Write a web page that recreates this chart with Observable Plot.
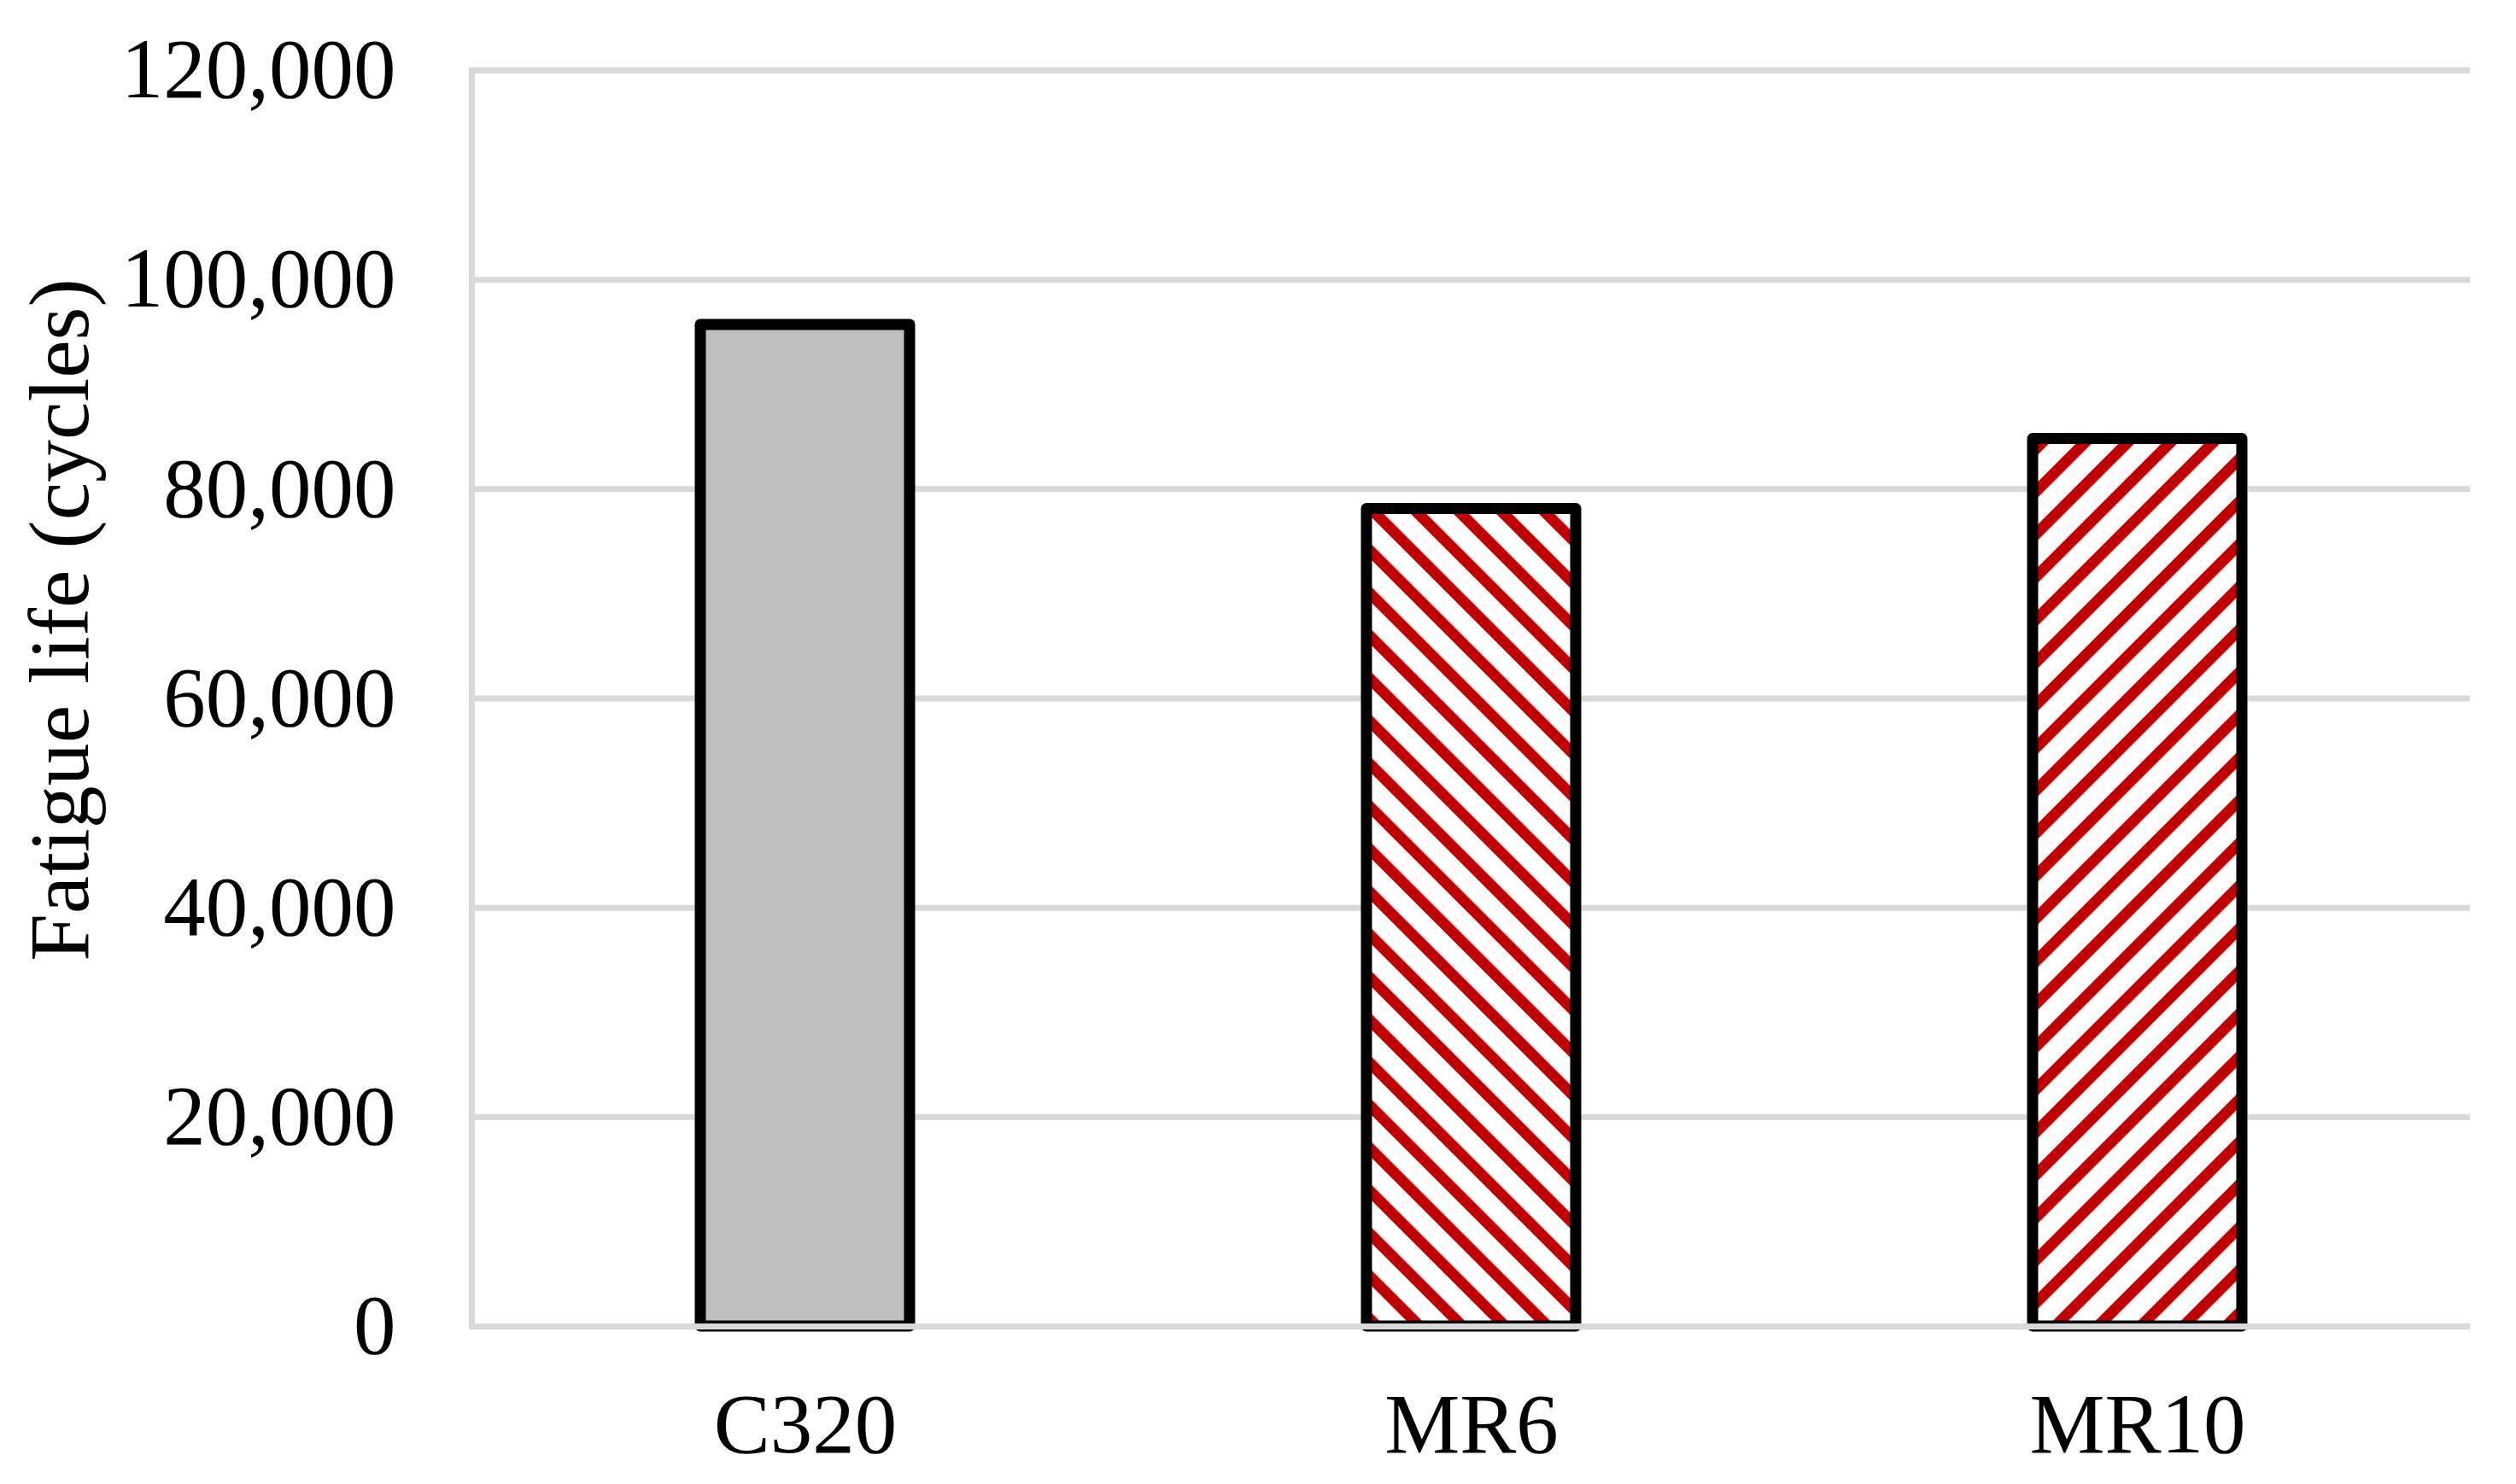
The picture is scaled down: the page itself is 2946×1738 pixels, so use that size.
<!DOCTYPE html>
<html>
<head>
<meta charset="utf-8">
<script src="https://cdn.jsdelivr.net/npm/d3@7"></script>
<script src="https://cdn.jsdelivr.net/npm/@observablehq/plot@0.6"></script>
<style>
  html, body { margin: 0; padding: 0; background: #fff; overflow: hidden; }
  #chart { width: 2946px; height: 1738px; }
</style>
</head>
<body>
<div id="chart"></div>
<script>
// ---- data ----
const categories = ["C320", "MR6", "MR10"];
const fatigueLife = [95700, 78100, 84800];
const yTicks = [0, 20000, 40000, 60000, 80000, 100000, 120000];
const yTitle = ["Fatigue life (cycles)"];

const data = categories.map((c, i) => ({category: c, value: fatigueLife[i]}));

// ---- styles ----
const fillRange = ["#bfbfbf", "url(#hatchDown)", "url(#hatchUp)"];
const fontFamily = "'Liberation Serif', 'Times New Roman', serif";
const gridColor = "#d9d9d9";

const chart = Plot.plot({
  width: 2946,
  height: 1738,
  marginLeft: 552,
  marginRight: 54,
  marginTop: 82,
  marginBottom: 185,
  style: {fontFamily, fontSize: "99px", color: "#000", background: "#fff"},
  x: {domain: categories, paddingInner: 0.686, paddingOuter: 0.343, label: null},
  y: {domain: [0, 120000], label: null},
  color: {type: "ordinal", domain: categories, range: fillRange},
  marks: [
    Plot.ruleY(yTicks.filter(d => d > 0), {stroke: gridColor, strokeWidth: 7}),
    Plot.frame({anchor: "left", stroke: gridColor, strokeWidth: 7}),
    Plot.barY(data, {
      x: "category", y: "value", fill: "category",
      stroke: "#000", strokeWidth: 13, strokeLinejoin: "round"
    }),
    Plot.ruleY([0], {stroke: gridColor, strokeWidth: 7}),
    Plot.axisY({ticks: yTicks, tickSize: 0, tickPadding: 89, tickFormat: d3.format(","), label: null, fontSize: 99}),
    Plot.axisX({tickSize: 0, tickPadding: 77, label: null, fontSize: 99}),
    Plot.text(yTitle, {
      text: d => d, frameAnchor: "left", textAnchor: "middle", rotate: -90,
      dx: -482, dy: -92, fontSize: 100, fill: "#000"
    })
  ]
});

// hatch patterns
const defs = d3.select(chart).insert("defs", ":first-child");
function hatch(id, angle) {
  const p = defs.append("pattern")
    .attr("id", id)
    .attr("patternUnits", "userSpaceOnUse")
    .attr("width", 35.36).attr("height", 35.36)
    .attr("patternTransform", `rotate(${angle})`);
  p.append("rect").attr("width", 35.36).attr("height", 35.36).attr("fill", "#fff");
  p.append("rect").attr("x", 0).attr("width", 13).attr("height", 35.36).attr("fill", "#c00000");
}
hatch("hatchDown", -45);
hatch("hatchUp", 45);

document.getElementById("chart").appendChild(chart);
</script>
</body>
</html>
